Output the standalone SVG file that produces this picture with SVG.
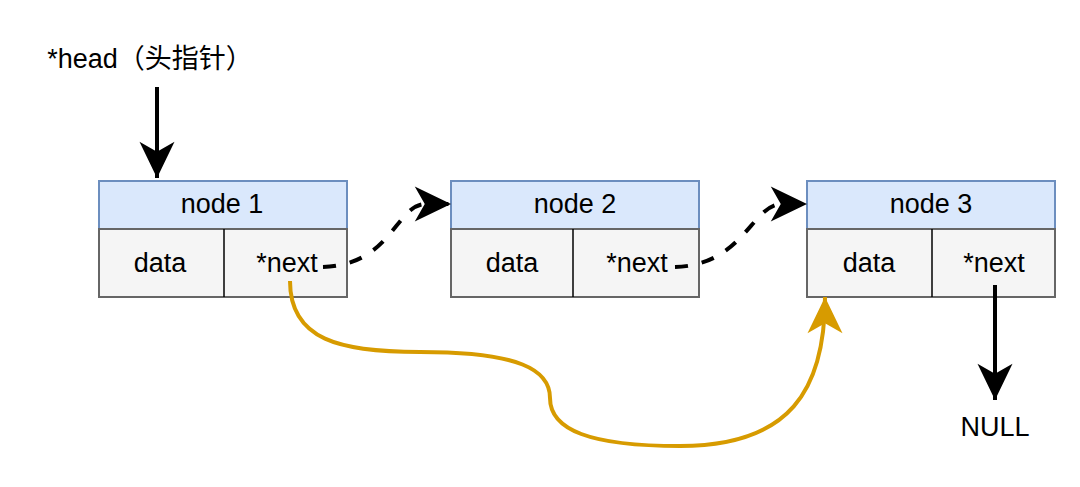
<svg xmlns="http://www.w3.org/2000/svg" width="1080" height="487" viewBox="0 0 1080 487">
<style>
.hdr{fill:#dae8fc;stroke:#6c8ebf;stroke-width:2}
.cell{fill:#f5f5f5;stroke:#666666;stroke-width:2}
.div{stroke:#000;stroke-width:1.5}
.t{font-family:"Liberation Sans",Arial,"Noto Sans CJK SC",sans-serif;font-size:27px;fill:#000;text-anchor:middle}
.blk{fill:none;stroke:#000;stroke-width:4}
.dash{fill:none;stroke:#000;stroke-width:4;stroke-dasharray:13 14}
.org{fill:none;stroke:#d79b00;stroke-width:4}
</style>
<defs>
<marker id="ab" markerUnits="userSpaceOnUse" markerWidth="40" markerHeight="40" refX="0" refY="0" viewBox="-30 -15 32 30" orient="auto" overflow="visible">
<path d="M0,0 L-29,-14 L-21,0 L-29,14 Z" fill="#000"/>
</marker>
<marker id="ao" markerUnits="userSpaceOnUse" markerWidth="40" markerHeight="40" refX="0" refY="0" viewBox="-30 -15 32 30" orient="auto" overflow="visible">
<path d="M0,0 L-29,-14 L-21,0 L-29,14 Z" fill="#d79b00"/>
</marker>
</defs>
<text class="t" x="150" y="68">*head（头指针）</text>
<g id="node1">
<rect class="hdr" x="99" y="181" width="248" height="48"/>
<rect class="cell" x="99" y="229" width="248" height="68"/>
<line class="div" x1="224" y1="229" x2="224" y2="297"/>
<text class="t" x="222" y="213">node 1</text>
<text class="t" x="160" y="272">data</text>
<text class="t" x="287" y="272">*next</text>
</g>
<g id="node2">
<rect class="hdr" x="451" y="181" width="248" height="48"/>
<rect class="cell" x="451" y="229" width="248" height="68"/>
<line class="div" x1="573" y1="229" x2="573" y2="297"/>
<text class="t" x="575" y="213">node 2</text>
<text class="t" x="512" y="272">data</text>
<text class="t" x="637" y="272">*next</text>
</g>
<g id="node3">
<rect class="hdr" x="807" y="181" width="248" height="48"/>
<rect class="cell" x="807" y="229" width="248" height="68"/>
<line class="div" x1="932" y1="229" x2="932" y2="297"/>
<text class="t" x="931" y="213">node 3</text>
<text class="t" x="869" y="272">data</text>
<text class="t" x="994" y="272">*next</text>
</g>
<text class="t" x="995" y="436">NULL</text>
<g id="connectors">
<path class="blk" d="M157,87 L157,178" marker-end="url(#ab)"/>
<path class="dash" d="M323,267 C392,265 396,204 426,204 L451,204" marker-end="url(#ab)"/>
<path class="dash" d="M675,267 C744,265 752,204 782,204 L807,204" marker-end="url(#ab)"/>
<path class="blk" d="M995,285 L995,400" marker-end="url(#ab)"/>
<path class="org" d="M290,281 C290,340 340,352 420,352 C520,352 550,370 550,398 C550,430 590,446 680,446 C790,446 825,390 825,297" marker-end="url(#ao)"/>
</g>
</svg>
